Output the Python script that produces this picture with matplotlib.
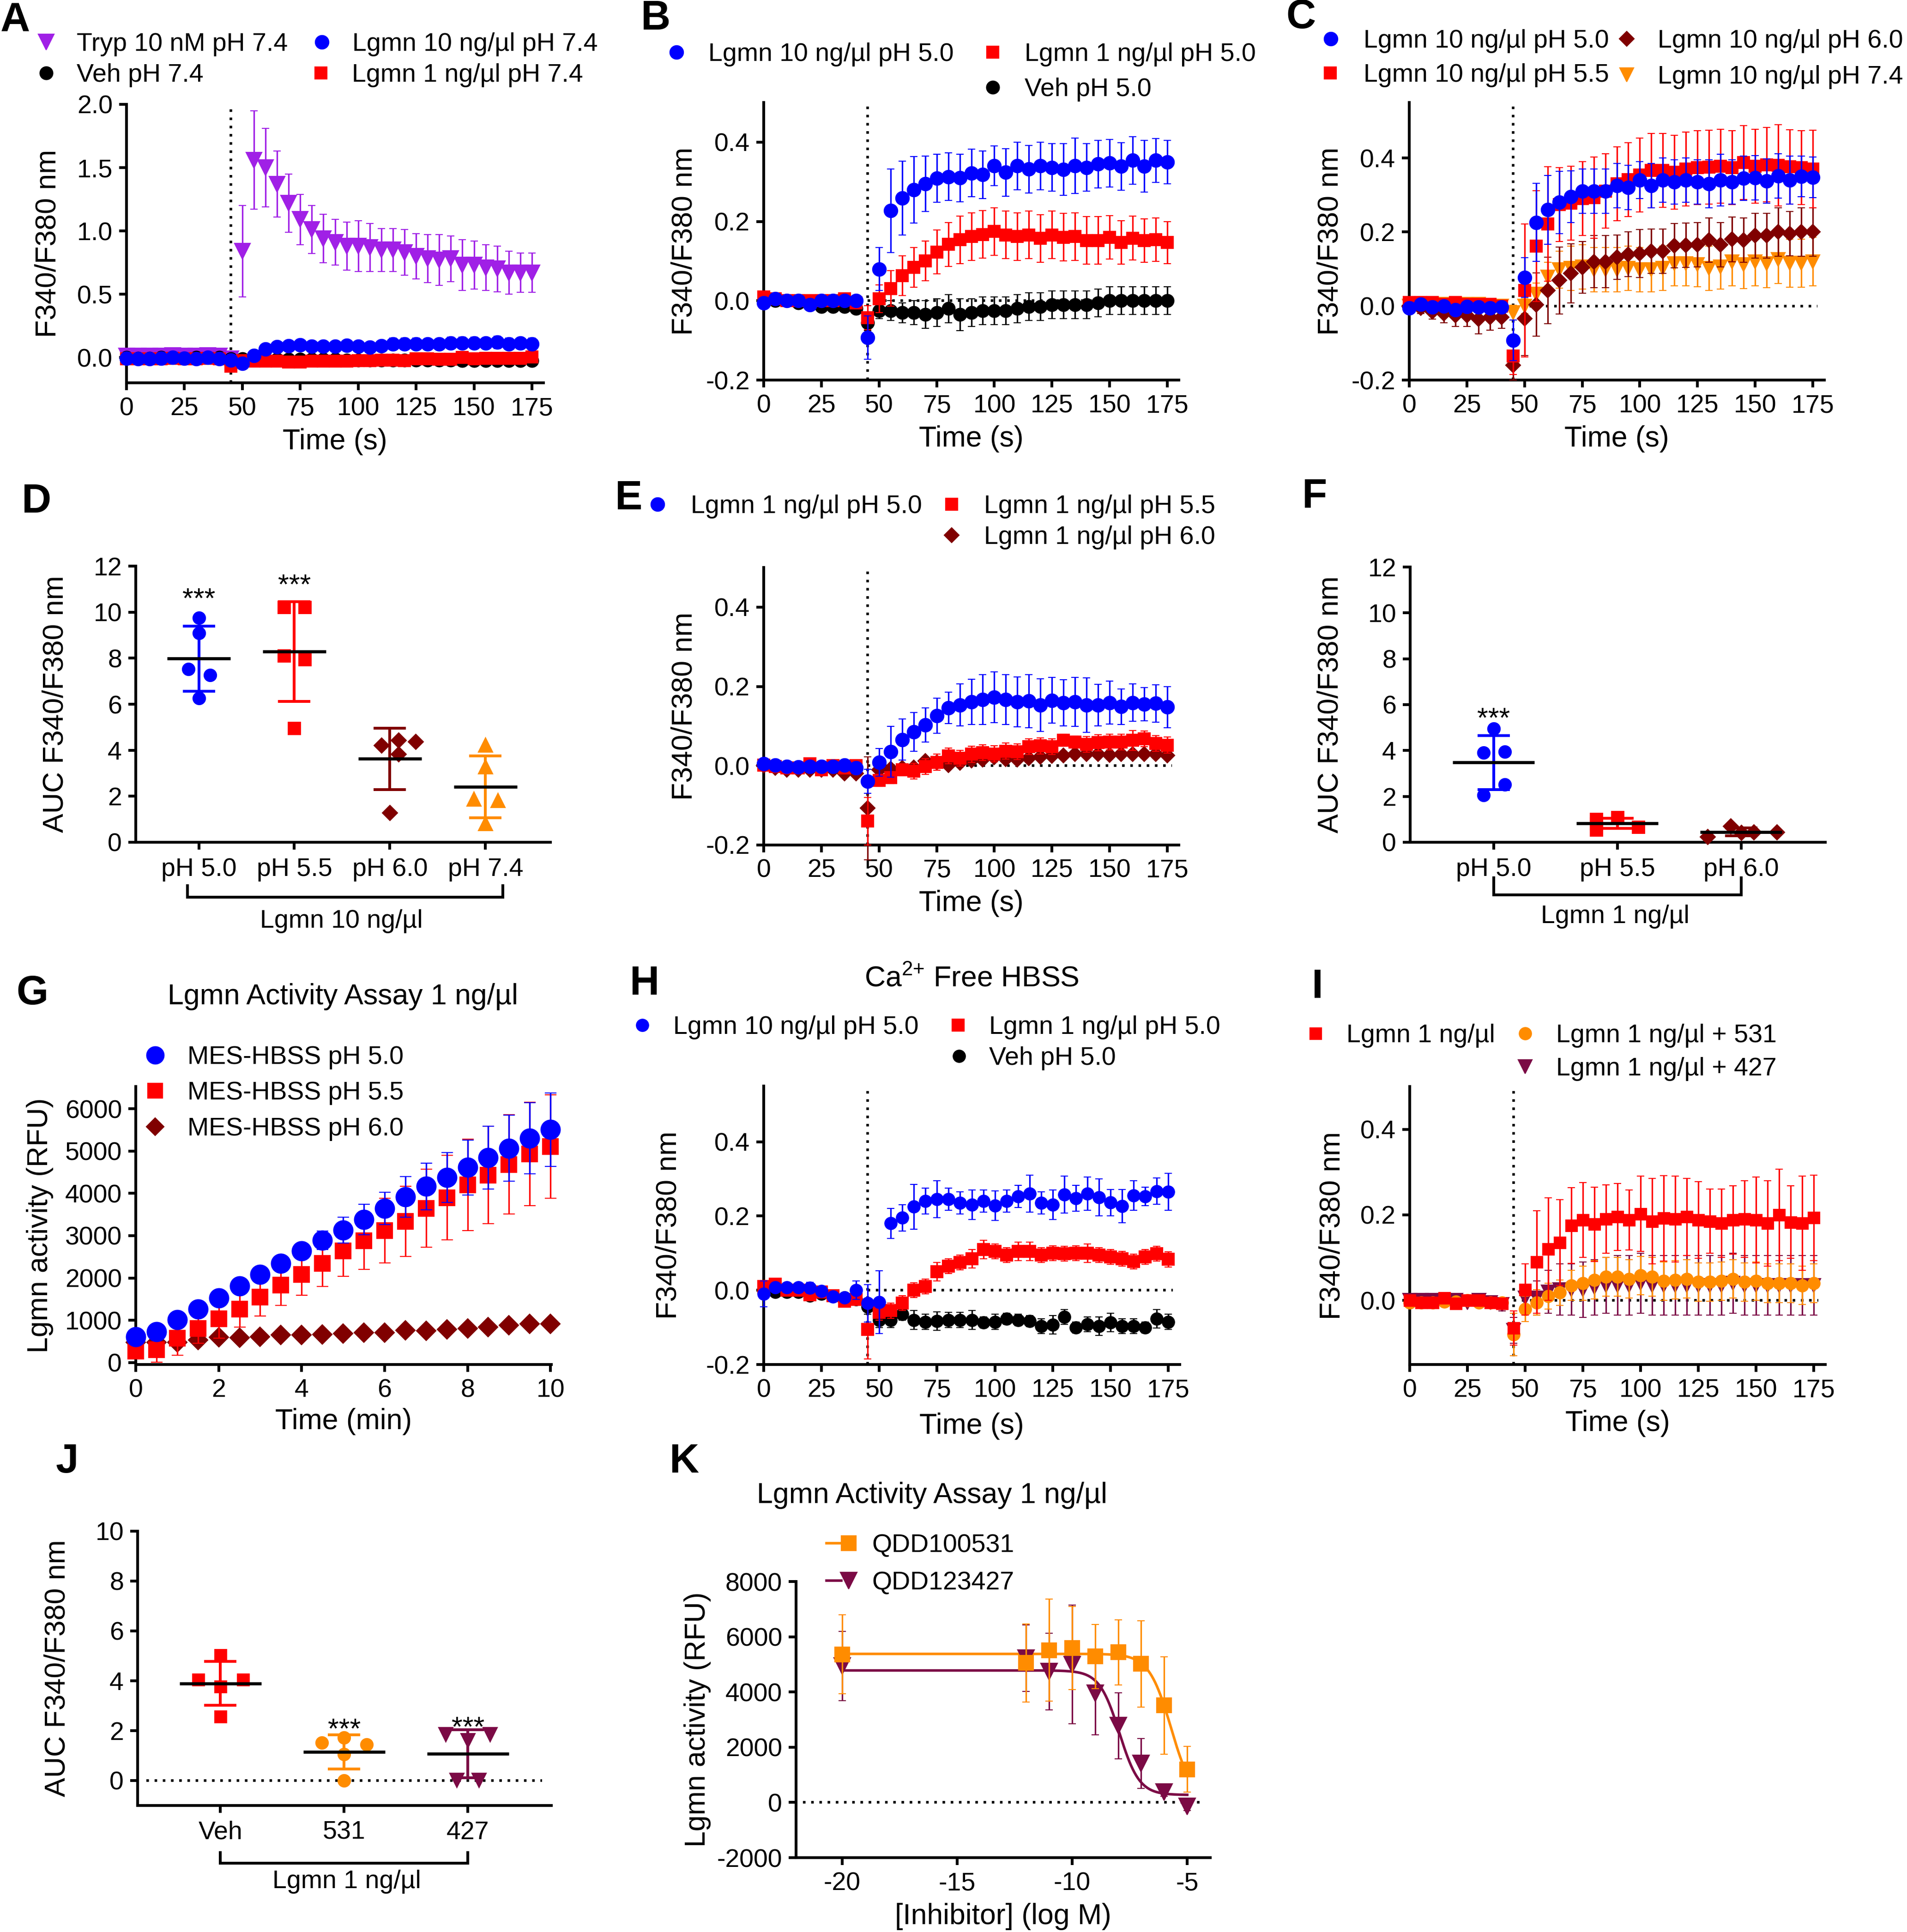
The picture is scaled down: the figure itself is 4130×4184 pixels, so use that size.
import numpy as np
import matplotlib
matplotlib.use("Agg")
import matplotlib.pyplot as plt
import matplotlib.transforms as mtransforms
from matplotlib.ticker import FormatStrFormatter
from matplotlib.legend_handler import HandlerTuple

# ======================= DATA =======================
time_s = list(range(0, 180, 5))

# ---- Panel A (pH 7.4) ----
a_tryp = [0.01, 0.01, 0.01, 0.01, 0.015, 0.01, 0.01, 0.015, 0.01, -0.01,
          0.84, 1.56, 1.50, 1.37, 1.22, 1.09, 1.01, 0.94, 0.91, 0.88, 0.88, 0.87, 0.85,
          0.85, 0.83, 0.80, 0.78, 0.77, 0.78, 0.73, 0.73, 0.71, 0.70, 0.67, 0.67, 0.67]
a_tryp_err = [0.01, 0.01, 0.01, 0.01, 0.01, 0.01, 0.01, 0.01, 0.01, 0.01,
              0.36, 0.39, 0.31, 0.26, 0.23, 0.20, 0.19, 0.19, 0.18, 0.19, 0.20, 0.19, 0.17,
              0.17, 0.18, 0.18, 0.19, 0.20, 0.18, 0.20, 0.19, 0.18, 0.18, 0.17, 0.155, 0.155]
a_veh = [0.0, -0.005, -0.005, 0.0, 0.0, -0.005, 0.0, 0.0, 0.0, -0.01,
         -0.01, -0.01, -0.015, -0.015, -0.015, -0.015, -0.015, -0.015, -0.015, -0.02, -0.02,
         -0.02, -0.02, -0.02, -0.02, -0.02, -0.02, -0.02, -0.02, -0.025, -0.025, -0.025,
         -0.025, -0.025, -0.025, -0.025]
a_veh_err = [0.01, 0.01, 0.01, 0.01, 0.01, 0.01, 0.01, 0.01, 0.01, 0.015,
             0.015, 0.015, 0.015, 0.015, 0.015, 0.015, 0.015, 0.015, 0.015, 0.015, 0.015,
             0.015, 0.015, 0.015, 0.015, 0.015, 0.015, 0.015, 0.015, 0.015, 0.015, 0.015,
             0.015, 0.015, 0.015, 0.015]
a_l10 = [-0.005, -0.01, -0.01, -0.005, 0.0, -0.005, -0.01, 0.0, -0.01, -0.02,
         -0.047, 0.016, 0.065, 0.086, 0.093, 0.098, 0.088, 0.088, 0.088, 0.097, 0.088,
         0.082, 0.093, 0.108, 0.108, 0.108, 0.105, 0.105, 0.115, 0.115, 0.115, 0.113,
         0.12, 0.108, 0.113, 0.108]
a_l10_err = [0.01, 0.01, 0.01, 0.01, 0.01, 0.01, 0.01, 0.01, 0.01, 0.02,
             0.02, 0.03, 0.035, 0.04, 0.04, 0.045, 0.04, 0.04, 0.04, 0.04, 0.04,
             0.04, 0.04, 0.045, 0.045, 0.045, 0.045, 0.045, 0.045, 0.045, 0.045, 0.045,
             0.05, 0.045, 0.045, 0.045]
a_l1 = [-0.01, -0.01, -0.01, -0.01, -0.005, -0.01, -0.01, -0.005, -0.01, -0.07,
        -0.025, -0.03, -0.03, -0.03, -0.035, -0.035, -0.03, -0.03, -0.03, -0.03, -0.025,
        -0.025, -0.02, -0.02, -0.025, -0.01, -0.01, -0.015, -0.015, 0.0, -0.01, -0.005,
        -0.005, -0.005, -0.005, 0.005]
a_l1_err = [0.01, 0.01, 0.01, 0.01, 0.01, 0.01, 0.01, 0.01, 0.01, 0.02,
            0.02, 0.02, 0.02, 0.02, 0.02, 0.02, 0.02, 0.02, 0.02, 0.02, 0.02,
            0.02, 0.02, 0.02, 0.02, 0.02, 0.02, 0.02, 0.02, 0.02, 0.02, 0.02,
            0.02, 0.02, 0.02, 0.02]

# ---- Panel B (pH 5.0) ----
b_l10 = [-0.005, 0.005, 0.0, 0.0, -0.01, 0.0, 0.0, 0.0, 0.0, -0.093,
         0.08, 0.227, 0.259, 0.28, 0.295, 0.309, 0.313, 0.31, 0.322, 0.318, 0.34, 0.324,
         0.34, 0.332, 0.34, 0.336, 0.331, 0.34, 0.336, 0.345, 0.347, 0.339, 0.354, 0.339,
         0.354, 0.35]
b_l10_err = [0.005, 0.005, 0.005, 0.005, 0.005, 0.005, 0.005, 0.005, 0.005, 0.055,
             0.054, 0.105, 0.093, 0.084, 0.07, 0.06, 0.06, 0.06, 0.06, 0.06, 0.05, 0.06,
             0.06, 0.06, 0.06, 0.06, 0.065, 0.07, 0.06, 0.06, 0.06, 0.06, 0.06, 0.065,
             0.055, 0.055]
b_l1 = [0.01, 0.005, 0.0, 0.0, 0.0, 0.0, 0.0, 0.005, -0.005, -0.043,
        0.005, 0.031, 0.063, 0.084, 0.1, 0.123, 0.142, 0.154, 0.162, 0.167, 0.175, 0.166,
        0.162, 0.166, 0.157, 0.166, 0.16, 0.162, 0.152, 0.152, 0.16, 0.147, 0.158, 0.152,
        0.154, 0.147]
b_l1_err = [0.005, 0.005, 0.005, 0.005, 0.005, 0.005, 0.005, 0.005, 0.005, 0.03,
            0.035, 0.045, 0.05, 0.05, 0.05, 0.055, 0.055, 0.06, 0.06, 0.06, 0.06, 0.06,
            0.06, 0.06, 0.06, 0.06, 0.06, 0.06, 0.06, 0.06, 0.055, 0.055, 0.055, 0.055,
            0.055, 0.053]
b_veh = [0.0, 0.0, 0.0, -0.005, -0.01, -0.015, -0.015, -0.015, -0.02, -0.055,
         -0.025, -0.025, -0.03, -0.03, -0.035, -0.03, -0.02, -0.035, -0.03, -0.025, -0.025,
         -0.025, -0.02, -0.015, -0.015, -0.01, -0.01, -0.01, -0.01, -0.005, 0.0, 0.0, 0.0,
         0.0, 0.0, 0.0]
b_veh_err = [0.01, 0.01, 0.01, 0.01, 0.01, 0.01, 0.01, 0.01, 0.01, 0.02,
             0.02, 0.025, 0.025, 0.03, 0.035, 0.035, 0.035, 0.04, 0.035, 0.035, 0.035, 0.035,
             0.035, 0.035, 0.035, 0.035, 0.035, 0.035, 0.035, 0.035, 0.035, 0.035, 0.035,
             0.035, 0.035, 0.035]

# ---- Panel C (Lgmn 10 ng/ul, pH series) ----
c_50 = [-0.005, 0.005, -0.003, 0.0, -0.01, -0.002, -0.003, -0.005, -0.003, -0.093,
        0.077, 0.226, 0.26, 0.28, 0.295, 0.31, 0.31, 0.31, 0.325, 0.32, 0.34, 0.325, 0.34,
        0.335, 0.34, 0.335, 0.33, 0.34, 0.335, 0.345, 0.347, 0.338, 0.352, 0.34, 0.35, 0.348]
c_50_err = b_l10_err
c_55 = [0.01, 0.01, 0.01, 0.005, 0.01, 0.005, 0.005, 0.005, 0.0, -0.135,
        0.042, 0.162, 0.222, 0.274, 0.278, 0.29, 0.293, 0.311, 0.33, 0.342, 0.354, 0.366,
        0.367, 0.362, 0.37, 0.374, 0.375, 0.378, 0.374, 0.388, 0.378, 0.382, 0.38, 0.376,
        0.374, 0.37]
c_55_err = [0.01, 0.01, 0.01, 0.01, 0.01, 0.01, 0.01, 0.01, 0.01, 0.05,
            0.18, 0.15, 0.155, 0.1, 0.1, 0.1, 0.11, 0.1, 0.1, 0.1, 0.1, 0.1,
            0.1, 0.1, 0.1, 0.1, 0.1, 0.1, 0.1, 0.1, 0.1, 0.1, 0.11, 0.1, 0.1, 0.105]
c_60 = [0.0, -0.005, -0.015, -0.02, -0.025, -0.025, -0.035, -0.03, -0.03, -0.16,
        -0.034, 0.004, 0.042, 0.069, 0.088, 0.104, 0.12, 0.12, 0.132, 0.14, 0.142, 0.148,
        0.148, 0.163, 0.164, 0.166, 0.178, 0.166, 0.18, 0.178, 0.19, 0.19, 0.2, 0.196,
        0.2, 0.2]
c_60_err = [0.01, 0.015, 0.02, 0.025, 0.03, 0.03, 0.04, 0.035, 0.03, 0.04,
            0.1, 0.085, 0.09, 0.09, 0.08, 0.07, 0.07, 0.07, 0.06, 0.06, 0.065, 0.06,
            0.06, 0.06, 0.06, 0.06, 0.06, 0.06, 0.06, 0.06, 0.06, 0.06, 0.065, 0.06,
            0.065, 0.065]
c_74 = [0.0, 0.005, 0.005, 0.005, 0.005, 0.005, 0.005, 0.0, 0.0, -0.018,
        0.0, 0.032, 0.078, 0.098, 0.102, 0.106, 0.098, 0.098, 0.098, 0.102, 0.098, 0.098,
        0.102, 0.114, 0.114, 0.112, 0.102, 0.106, 0.12, 0.112, 0.12, 0.114, 0.126, 0.116,
        0.116, 0.12]
c_74_err = [0.005, 0.005, 0.005, 0.005, 0.005, 0.005, 0.005, 0.005, 0.005, 0.02,
            0.02, 0.03, 0.04, 0.05, 0.06, 0.06, 0.06, 0.06, 0.06, 0.06, 0.06, 0.06,
            0.06, 0.06, 0.06, 0.06, 0.06, 0.06, 0.065, 0.065, 0.065, 0.065, 0.065, 0.065,
            0.065, 0.065]

# ---- Panel D (AUC, Lgmn 10 ng/ul) ----
d_groups = ["pH 5.0", "pH 5.5", "pH 6.0", "pH 7.4"]
d_ph50 = [9.75, 9.10, 7.53, 7.26, 6.26]
d_ph55 = [10.22, 10.22, 8.11, 7.94, 4.95]
d_ph60 = [4.21, 4.44, 4.37, 3.83, 1.28]
d_ph74 = [4.24, 3.30, 1.88, 1.82, 0.83]
d_sig = ["***", "***", "", ""]

# ---- Panel E (Lgmn 1 ng/ul, pH series) ----
e_50 = [0.005, 0.002, -0.002, -0.003, -0.002, -0.002, -0.002, 0.002, -0.005, -0.039,
        0.008, 0.035, 0.066, 0.085, 0.103, 0.126, 0.146, 0.153, 0.161, 0.167, 0.173, 0.167,
        0.161, 0.163, 0.153, 0.165, 0.159, 0.161, 0.153, 0.153, 0.159, 0.149, 0.159, 0.155,
        0.157, 0.148]
e_50_err = [0.005, 0.005, 0.005, 0.005, 0.005, 0.005, 0.005, 0.005, 0.005, 0.03,
            0.035, 0.064, 0.052, 0.049, 0.043, 0.044, 0.04, 0.053, 0.057, 0.063, 0.064, 0.063,
            0.063, 0.067, 0.066, 0.058, 0.058, 0.062, 0.069, 0.052, 0.054, 0.045, 0.047, 0.042,
            0.047, 0.052]
e_55 = [0.002, -0.002, -0.005, -0.005, 0.005, -0.01, 0.0, -0.005, 0.0, -0.14,
        -0.037, -0.03, -0.01, -0.014, -0.002, 0.009, 0.025, 0.019, 0.029, 0.033, 0.03, 0.037,
        0.035, 0.048, 0.05, 0.048, 0.064, 0.06, 0.054, 0.058, 0.06, 0.06, 0.064, 0.068,
        0.056, 0.052]
e_55_err = [0.008, 0.008, 0.008, 0.008, 0.008, 0.008, 0.008, 0.008, 0.008, 0.06,
            0.015, 0.015, 0.015, 0.02, 0.02, 0.02, 0.02, 0.02, 0.02, 0.02, 0.02, 0.02,
            0.02, 0.02, 0.02, 0.02, 0.015, 0.015, 0.02, 0.02, 0.02, 0.02, 0.025, 0.02,
            0.02, 0.02]
e_60 = [0.0, -0.005, -0.01, -0.01, -0.01, -0.01, -0.01, -0.02, -0.02, -0.107,
        -0.01, -0.008, -0.005, -0.004, 0.012, 0.009, 0.002, 0.007, 0.013, 0.015, 0.021, 0.017,
        0.015, 0.019, 0.023, 0.025, 0.026, 0.029, 0.03, 0.029, 0.027, 0.029, 0.03, 0.029,
        0.029, 0.026]
e_60_err = [0.008, 0.008, 0.008, 0.008, 0.008, 0.008, 0.008, 0.008, 0.008, 0.13,
            0.01, 0.01, 0.01, 0.01, 0.01, 0.01, 0.01, 0.01, 0.01, 0.01, 0.01, 0.01,
            0.01, 0.01, 0.01, 0.01, 0.01, 0.01, 0.01, 0.01, 0.01, 0.01, 0.01, 0.01,
            0.01, 0.01]

# ---- Panel F (AUC, Lgmn 1 ng/ul) ----
f_groups = ["pH 5.0", "pH 5.5", "pH 6.0"]
f_ph50 = [4.96, 3.91, 3.95, 2.52, 2.06]
f_ph55 = [1.00, 0.55, 1.08, 0.67, 0.80]
f_ph60 = [0.24, 0.70, 0.45, 0.45, 0.42]
f_sig = ["***", "", ""]

# ---- Panel G (activity assay, pH) ----
g_min = [0, 0.5, 1, 1.5, 2, 2.5, 3, 3.5, 4, 4.5, 5, 5.5, 6, 6.5, 7, 7.5, 8, 8.5, 9, 9.5, 10]
g_50 = [612, 726, 1009, 1261, 1529, 1812, 2087, 2347, 2637, 2890, 3134, 3387, 3646, 3914,
        4166, 4380, 4610, 4839, 5068, 5298, 5505]
g_50_err = [60, 80, 90, 100, 100, 110, 120, 120, 130, 220, 306, 360, 383, 482, 551, 589,
            650, 742, 781, 841, 864]
g_55 = [268, 306, 573, 803, 1032, 1261, 1552, 1835, 2087, 2347, 2637, 2882, 3119, 3341,
        3647, 3899, 4205, 4434, 4686, 4931, 5107]
g_55_err = [150, 300, 400, 350, 450, 420, 450, 480, 500, 550, 600, 680, 760, 830, 920, 1000,
            1080, 1150, 1170, 1220, 1220]
g_60 = [482, 482, 482, 535, 596, 589, 612, 650, 650, 665, 688, 703, 703, 765, 749, 780,
        803, 841, 879, 917, 917]
g_60_err = [30, 30, 30, 30, 30, 30, 30, 30, 30, 30, 30, 30, 30, 30, 30, 30, 30, 30, 30, 30, 30]

# ---- Panel H (Ca2+ free HBSS) ----
h_l10 = [-0.01, 0.008, 0.008, 0.008, 0.007, -0.002, -0.017, -0.02, 0.0, -0.035,
         -0.032, 0.18, 0.195, 0.225, 0.24, 0.245, 0.245, 0.235, 0.23, 0.24, 0.228, 0.24,
         0.253, 0.26, 0.235, 0.23, 0.258, 0.248, 0.26, 0.25, 0.236, 0.227, 0.255, 0.253,
         0.267, 0.265]
h_l10_err = [0.035, 0.01, 0.01, 0.01, 0.015, 0.01, 0.01, 0.01, 0.025, 0.05,
             0.085, 0.04, 0.035, 0.06, 0.035, 0.05, 0.03, 0.03, 0.04, 0.03, 0.04, 0.03,
             0.03, 0.05, 0.03, 0.04, 0.05, 0.035, 0.045, 0.05, 0.035, 0.045, 0.04, 0.025,
             0.035, 0.05]
h_l1 = [0.01, 0.017, 0.0, 0.0, -0.012, -0.005, -0.015, -0.03, -0.025, -0.105,
        -0.06, -0.055, -0.035, 0.0, 0.01, 0.05, 0.065, 0.075, 0.085, 0.11, 0.105, 0.095,
        0.105, 0.105, 0.095, 0.1, 0.098, 0.1, 0.1, 0.095, 0.09, 0.085, 0.077, 0.09,
        0.098, 0.083]
h_l1_err = [0.015, 0.01, 0.01, 0.01, 0.01, 0.01, 0.01, 0.015, 0.015, 0.08,
            0.02, 0.02, 0.02, 0.02, 0.02, 0.025, 0.02, 0.02, 0.025, 0.025, 0.02, 0.02,
            0.025, 0.025, 0.02, 0.02, 0.02, 0.02, 0.025, 0.02, 0.02, 0.02, 0.02, 0.02,
            0.02, 0.02]
h_veh = [-0.005, -0.005, -0.005, -0.005, -0.015, -0.01, -0.015, -0.02, -0.025, -0.045,
         -0.08, -0.08, -0.065, -0.08, -0.085, -0.083, -0.08, -0.08, -0.08, -0.087, -0.085,
         -0.077, -0.08, -0.083, -0.097, -0.093, -0.072, -0.1, -0.092, -0.097, -0.087, -0.097,
         -0.097, -0.1, -0.077, -0.085]
h_veh_err = [0.01, 0.01, 0.01, 0.01, 0.01, 0.01, 0.01, 0.01, 0.01, 0.02,
             0.02, 0.02, 0.015, 0.025, 0.02, 0.025, 0.02, 0.02, 0.025, 0.015, 0.02, 0.015,
             0.015, 0.015, 0.02, 0.025, 0.02, 0.015, 0.02, 0.025, 0.025, 0.02, 0.02, 0.015,
             0.025, 0.02]

# ---- Panel I (inhibitors) ----
i_l1 = [0.0, -0.005, -0.005, 0.005, -0.008, 0.0, 0.0, -0.005, -0.008, -0.065,
        0.025, 0.09, 0.12, 0.135, 0.175, 0.188, 0.178, 0.19, 0.195, 0.188, 0.202, 0.185,
        0.192, 0.19, 0.195, 0.188, 0.185, 0.18, 0.188, 0.19, 0.188, 0.18, 0.2, 0.183,
        0.18, 0.193]
i_l1_err = [0.005, 0.005, 0.005, 0.005, 0.005, 0.005, 0.005, 0.005, 0.005, 0.04,
            0.06, 0.12, 0.12, 0.1, 0.088, 0.087, 0.087, 0.08, 0.078, 0.07, 0.088, 0.1,
            0.1, 0.1, 0.09, 0.09, 0.075, 0.08, 0.08, 0.09, 0.1, 0.1, 0.107, 0.085, 0.11, 0.1]
i_531 = [-0.005, -0.005, -0.005, -0.003, -0.003, 0.0, -0.005, -0.005, -0.005, -0.08,
         -0.02, -0.005, 0.01, 0.018, 0.035, 0.04, 0.048, 0.055, 0.055, 0.05, 0.058, 0.055,
         0.045, 0.048, 0.05, 0.043, 0.043, 0.045, 0.05, 0.043, 0.045, 0.04, 0.04, 0.04,
         0.035, 0.04]
i_531_err = [0.005, 0.005, 0.005, 0.005, 0.005, 0.005, 0.005, 0.005, 0.005, 0.05,
             0.03, 0.03, 0.03, 0.03, 0.035, 0.04, 0.045, 0.045, 0.045, 0.045, 0.045, 0.045,
             0.045, 0.045, 0.045, 0.045, 0.045, 0.045, 0.045, 0.045, 0.045, 0.045, 0.045,
             0.045, 0.045, 0.045]
i_427 = [0.0, 0.0, 0.0, 0.0, 0.0, -0.005, 0.0, -0.005, -0.01, -0.07,
         0.005, 0.005, 0.02, 0.025, 0.025, 0.025, 0.03, 0.035, 0.035, 0.035, 0.04, 0.035,
         0.035, 0.035, 0.035, 0.035, 0.035, 0.035, 0.04, 0.035, 0.035, 0.035, 0.035, 0.035,
         0.035, 0.035]
i_427_err = [0.005, 0.005, 0.005, 0.005, 0.005, 0.005, 0.005, 0.01, 0.015, 0.03,
             0.03, 0.04, 0.05, 0.06, 0.06, 0.065, 0.065, 0.065, 0.07, 0.07, 0.07, 0.07,
             0.07, 0.07, 0.07, 0.07, 0.07, 0.07, 0.07, 0.07, 0.07, 0.07, 0.07, 0.07,
             0.07, 0.07]

# ---- Panel J (AUC, inhibitors) ----
j_groups = ["Veh", "531", "427"]
j_veh = [5.04, 4.05, 4.05, 3.77, 2.58]
j_531 = [1.72, 1.51, 1.44, 1.05, 0.0]
j_427 = [1.85, 1.85, 1.62, 0.02, 0.02]
j_sig = ["", "***", "***"]

# ---- Panel K (dose response) ----
k_logM = [-20, -12, -11, -10, -9, -8, -7, -6, -5]
k_531 = [5364, 5052, 5514, 5595, 5283, 5434, 5017, 3514, 1202]
k_531_err = [1430, 1410, 1850, 1500, 1160, 1180, 1560, 1760, 830]
k_427 = [4936, 5225, 4740, 4994, 3954, 2775, 1410, 370, -150]
k_427_err = [1250, 1200, 1390, 2150, 1500, 1200, 900, 150, 150]
# fitted 4-parameter logistic: top, bottom, logIC50, hill
k_531_fit = [5380, 0, -5.7, 0.9]
k_427_fit = [4780, 270, -7.95, 1.0]

# ======================= STYLE =======================
W, H, DPI = 4130, 4184, 200
plt.rcParams['font.family'] = ['Liberation Sans', 'DejaVu Sans']
plt.rcParams['axes.unicode_minus'] = False
plt.rcParams['mathtext.default'] = 'regular'

BLUE = '#0000FF'
RED = '#FF0000'
BLACK = '#000000'
MAROON = '#800000'
ORANGE = '#FF8C00'
PURPLE = '#A020E6'
PLUM = '#7B0A45'

FS_TICK = 20
FS_LAB = 22.5
FS_LEG = 20
FS_PX = FS_LEG * DPI / 72.0
DOT = (0, (1, 2.2))

fig = plt.figure(figsize=(W / DPI, H / DPI), dpi=DPI)


def add_ax(x0, y0, x1, y1):
    ax = fig.add_axes([x0 / W, 1 - y1 / H, (x1 - x0) / W, (y1 - y0) / H])
    ax.spines[['top', 'right']].set_visible(False)
    for s in ['left', 'bottom']:
        ax.spines[s].set_linewidth(2.2)
    ax.tick_params(width=2.2, length=5.8, labelsize=FS_TICK, pad=5)
    ax.patch.set_alpha(0)
    ax._px = (x0, y0, x1, y1)
    return ax


def set_labels(ax, xl, yl, yoff, xoff=127):
    x0, y0, x1, y1 = ax._px
    if xl:
        ax.set_xlabel(xl, fontsize=FS_LAB, va='center')
        ax.xaxis.set_label_coords(0.5, -xoff / (y1 - y0))
    ax.set_ylabel(yl, fontsize=FS_LAB, va='center')
    ax.yaxis.set_label_coords(-yoff / (x1 - x0), 0.5)


def letter(ch, x, y):
    fig.text(x / W, 1 - y / H, ch, fontsize=32, fontweight='bold', ha='center', va='center')


def entry(handle, label, mx, my, tx, hl=1.0, markerscale=1.0):
    x0 = mx - hl * FS_PX / 2
    pad = (tx - mx - hl * FS_PX / 2) / FS_PX
    fig.legend([handle], [label], loc='center left',
               bbox_to_anchor=(x0 / W, 1 - my / H), bbox_transform=fig.transFigure,
               frameon=False, handlelength=hl, handletextpad=pad, borderpad=0,
               borderaxespad=0, fontsize=FS_LEG, numpoints=1, markerscale=markerscale,
               handler_map={tuple: HandlerTuple(ndivide=None)})


def series(ax, x, y, err, color, marker, ms, z, cap=3):
    c = ax.errorbar(x, y, yerr=err, fmt=marker, color=color, ms=ms, mec=color, mfc=color,
                    mew=0.8, ecolor=color, elinewidth=1.2, capsize=cap, capthick=1.2,
                    zorder=z, clip_on=False)
    return c[0]


def ts_axes(px, ylim, yticks, yoff, zero_line=True):
    ax = add_ax(*px)
    ax.set_xlim(0, 180)
    ax.set_ylim(*ylim)
    ax.set_xticks(list(range(0, 176, 25)))
    ax.set_yticks(yticks)
    ax.yaxis.set_major_formatter(FormatStrFormatter('%.1f'))
    ax.axvline(45, color='k', lw=2, ls=DOT, zorder=1)
    if zero_line:
        ax.hlines(0, 45, 177, color='k', lw=2, ls=DOT, zorder=1)
    set_labels(ax, 'Time (s)', 'F340/F380 nm', yoff)
    return ax


def dotplot(ax, i, vals, jit, color, marker, ms):
    xs = i + np.asarray(jit)
    ax.plot(xs, vals, ls='none', marker=marker, color=color, ms=ms, mec=color, zorder=3,
            clip_on=False)
    m = np.mean(vals)
    sd = np.std(vals, ddof=1)
    ax.errorbar([i], [m], yerr=[sd], fmt='none', ecolor=color, elinewidth=2.2,
                capsize=12.5, capthick=2.2, zorder=4)
    ax.hlines(m, i - 0.33, i + 0.33, color='black', lw=2.4, zorder=5)


def stars(ax, i, yc, s):
    if s:
        ax.annotate(s, xy=(i, yc), xytext=(0, -12.6), textcoords='offset points',
                    ha='center', va='baseline', fontsize=22)


def bracket(ax, xa, xb, y_px, ytop_px, label, lx, ly_px):
    tr = mtransforms.blended_transform_factory(ax.transData, fig.transFigure)
    ya = 1 - y_px / H
    yt = 1 - ytop_px / H
    ax.plot([xa, xa, xb, xb], [yt, ya, ya, yt], transform=tr, color='k', lw=2.2,
            clip_on=False, solid_joinstyle='miter')
    ax.text(lx, 1 - ly_px / H, label, transform=tr, ha='center', va='center', fontsize=FS_LEG)


def cat_axes(px, xlim, ylim, yticks, groups, yoff):
    ax = add_ax(*px)
    ax.set_xlim(*xlim)
    ax.set_ylim(*ylim)
    ax.set_yticks(yticks)
    ax.set_xticks(range(len(groups)))
    ax.set_xticklabels(groups)
    ax.tick_params(axis='x', pad=6)
    set_labels(ax, None, 'AUC F340/F380 nm', yoff)
    return ax


# ======================= PANEL A =======================
ax = ts_axes((274, 226, 1177, 829), (-0.2, 2.0), [0, 0.5, 1.0, 1.5, 2.0], 170, zero_line=False)
hA1 = series(ax, time_s, a_tryp, a_tryp_err, PURPLE, 'v', 12, 3)
hA2 = series(ax, time_s, a_veh, a_veh_err, BLACK, 'o', 10, 4)
hA3 = series(ax, time_s, a_l1, a_l1_err, RED, 's', 9.5, 5)
hA4 = series(ax, time_s, a_l10, a_l10_err, BLUE, 'o', 10.5, 6)
letter('A', 33, 45)
entry(hA1, 'Tryp 10 nM pH 7.4', 100, 96, 166)
entry(hA2, 'Veh pH 7.4', 100, 163, 166)
entry(hA4, 'Lgmn 10 ng/µl pH 7.4', 697, 96, 763)
entry(hA3, 'Lgmn 1 ng/µl pH 7.4', 695, 163, 762)

# ======================= PANEL B =======================
ax = ts_axes((1654, 222, 2553, 823), (-0.2, 0.5), [-0.2, 0.0, 0.2, 0.4], 172)
hB3 = series(ax, time_s, b_veh, b_veh_err, BLACK, 'o', 10, 3)
hB2 = series(ax, time_s, b_l1, b_l1_err, RED, 's', 9.5, 4)
hB1 = series(ax, time_s, b_l10, b_l10_err, BLUE, 'o', 10.5, 5)
letter('B', 1420, 41)
entry(hB1, 'Lgmn 10 ng/µl pH 5.0', 1465, 118, 1534)
entry(hB2, 'Lgmn 1 ng/µl pH 5.0', 2150, 118, 2219)
entry(hB3, 'Veh pH 5.0', 2150, 194, 2219)

# ======================= PANEL C =======================
ax = ts_axes((3052, 222, 3951, 823), (-0.2, 0.55), [-0.2, 0.0, 0.2, 0.4], 171)
hC4 = series(ax, time_s, c_74, c_74_err, ORANGE, 'v', 11, 3)
hC3 = series(ax, time_s, c_60, c_60_err, MAROON, 'D', 8, 4)
hC2 = series(ax, time_s, c_55, c_55_err, RED, 's', 9.5, 5)
hC1 = series(ax, time_s, c_50, c_50_err, BLUE, 'o', 10.5, 6)
letter('C', 2817, 38)
entry(hC1, 'Lgmn 10 ng/µl pH 5.0', 2882, 89, 2953)
entry(hC2, 'Lgmn 10 ng/µl pH 5.5', 2881, 163, 2953)
entry(hC3, 'Lgmn 10 ng/µl pH 6.0', 3523, 89, 3590)
entry(hC4, 'Lgmn 10 ng/µl pH 7.4', 3523, 167, 3590)

# ======================= PANEL D =======================
ax = cat_axes((294, 1226, 1192, 1824), (-0.66, 3.68), (0, 12), [0, 2, 4, 6, 8, 10, 12],
              d_groups, 174)
dotplot(ax, 0, d_ph50, [0, 0, -0.11, 0.12, 0], BLUE, 'o', 9.5)
dotplot(ax, 1, d_ph55, [-0.11, 0.11, -0.11, 0.11, 0], RED, 's', 9.5)
dotplot(ax, 2, d_ph60, [-0.09, 0.09, 0.27, 0.09, 0], MAROON, 'D', 8)
dotplot(ax, 3, d_ph74, [0, 0, -0.12, 0.13, 0], ORANGE, '^', 11)
for i, (s, yc) in enumerate(zip(d_sig, [10.9, 11.5, 0, 0])):
    stars(ax, i, yc, s)
bracket(ax, -0.12, 3.18, 1943, 1918, 'Lgmn 10 ng/µl', 1.49, 1995)
letter('D', 79, 1087)

# ======================= PANEL E =======================
ax = ts_axes((1654, 1229, 2553, 1830), (-0.2, 0.5), [-0.2, 0.0, 0.2, 0.4], 172)
hE3 = series(ax, time_s, e_60, e_60_err, MAROON, 'D', 8, 3)
hE2 = series(ax, time_s, e_55, e_55_err, RED, 's', 9.5, 4)
hE1 = series(ax, time_s, e_50, e_50_err, BLUE, 'o', 10.5, 5)
letter('E', 1362, 1080)
entry(hE1, 'Lgmn 1 ng/µl pH 5.0', 1424, 1097, 1496)
entry(hE2, 'Lgmn 1 ng/µl pH 5.5', 2061, 1097, 2131)
entry(hE3, 'Lgmn 1 ng/µl pH 6.0', 2061, 1164, 2131)

# ======================= PANEL F =======================
ax = cat_axes((3054, 1228, 3953, 1824), (-0.675, 2.68), (0, 12), [0, 2, 4, 6, 8, 10, 12],
              f_groups, 173)
dotplot(ax, 0, f_ph50, [0, -0.08, 0.09, 0.09, -0.08], BLUE, 'o', 9.5)
dotplot(ax, 1, f_ph55, [-0.17, -0.17, 0, 0.17, -0.17], RED, 's', 9.5)
dotplot(ax, 2, f_ph60, [-0.27, -0.085, 0.10, 0.29, 0], MAROON, 'D', 8)
for i, (s, yc) in enumerate(zip(f_sig, [5.73, 0, 0])):
    stars(ax, i, yc, s)
bracket(ax, 0, 2, 1938, 1901, 'Lgmn 1 ng/µl', 0.98, 1985)
letter('F', 2847, 1077)

# ======================= PANEL G =======================
ax = add_ax(294, 2353, 1194, 2955)
ax.set_xlim(0, 10.02)
ax.set_ylim(-45, 6525)
ax.set_xticks([0, 2, 4, 6, 8, 10])
ax.set_yticks([0, 1000, 2000, 3000, 4000, 5000, 6000])
hG3 = series(ax, g_min, g_60, g_60_err, MAROON, 'D', 10.5, 3, cap=4.5)
hG2 = series(ax, g_min, g_55, g_55_err, RED, 's', 12.5, 4, cap=4.5)
hG1 = series(ax, g_min, g_50, g_50_err, BLUE, 'o', 15, 5, cap=4.5)
set_labels(ax, 'Time (min)', 'Lgmn activity (RFU)', 207, xoff=123)
fig.text(742 / W, 1 - 2159 / H, 'Lgmn Activity Assay 1 ng/µl', fontsize=FS_LAB,
         ha='center', va='center')
letter('G', 70, 2152)
entry(hG1, 'MES-HBSS pH 5.0', 336, 2290, 406, markerscale=0.9)
entry(hG2, 'MES-HBSS pH 5.5', 336, 2367, 406, markerscale=0.9)
entry(hG3, 'MES-HBSS pH 6.0', 336, 2445, 406, markerscale=0.9)

# ======================= PANEL H =======================
ax = ts_axes((1654, 2352, 2555, 2955), (-0.2, 0.55), [-0.2, 0.0, 0.2, 0.4], 206)
ax.xaxis.set_label_coords(0.5, -133 / (2955 - 2352))
hH3 = series(ax, time_s, h_veh, h_veh_err, BLACK, 'o', 9.5, 3)
hH2 = series(ax, time_s, h_l1, h_l1_err, RED, 's', 9.5, 4)
hH1 = series(ax, time_s, h_l10, h_l10_err, BLUE, 'o', 9.5, 5)
fig.text(2104 / W, 1 - 2120 / H, 'Ca$^{2{+}}$ Free HBSS', fontsize=FS_LAB,
         ha='center', va='center')
letter('H', 1396, 2131)
entry(hH1, 'Lgmn 10 ng/µl pH 5.0', 1391, 2225, 1458)
entry(hH2, 'Lgmn 1 ng/µl pH 5.0', 2075, 2225, 2142)
entry(hH3, 'Veh pH 5.0', 2077, 2292, 2142)

# ======================= PANEL I =======================
ax = ts_axes((3053, 2353, 3953, 2955), (-0.15, 0.5), [0.0, 0.2, 0.4], 168)
hI3 = series(ax, time_s, i_427, i_427_err, PLUM, 'v', 11, 3)
hI2 = series(ax, time_s, i_531, i_531_err, ORANGE, 'o', 9.5, 4)
hI1 = series(ax, time_s, i_l1, i_l1_err, RED, 's', 9, 5)
letter('I', 2853, 2138)
entry(hI1, 'Lgmn 1 ng/µl', 2849, 2243, 2916)
entry(hI2, 'Lgmn 1 ng/µl + 531', 3303, 2243, 3370)
entry(hI3, 'Lgmn 1 ng/µl + 427', 3303, 2315, 3370)

# ======================= PANEL J =======================
ax = cat_axes((298, 3316, 1194, 3910), (-0.67, 2.675), (-1, 10), [0, 2, 4, 6, 8, 10],
              j_groups, 174)
ax.hlines(0, -0.6, 2.6, color='k', lw=2, ls=DOT, zorder=1)
dotplot(ax, 0, j_veh, [0, -0.18, 0.18, 0, 0], RED, 's', 9)
dotplot(ax, 1, j_531, [0, -0.18, 0.18, 0, 0], ORANGE, 'o', 9.5)
dotplot(ax, 2, j_427, [-0.18, 0.18, 0, -0.09, 0.09], PLUM, 'v', 10.5)
for i, (s, yc) in enumerate(zip(j_sig, [0, 2.36, 2.43])):
    stars(ax, i, yc, s)
bracket(ax, 0, 2, 4035, 4012, 'Lgmn 1 ng/µl', 1.02, 4075)
letter('J', 145, 3166)

# ======================= PANEL K =======================
ax = add_ax(1724, 3425, 2621, 4023)
ax.set_xlim(-22, -4)
ax.set_ylim(-2000, 8000)
ax.set_xticks([-20, -15, -10, -5])
ax.set_yticks([-2000, 0, 2000, 4000, 6000, 8000])
ax.hlines(0, -21.7, -4.3, color='k', lw=2, ls=DOT, zorder=1)
xf = np.linspace(-20, -5, 400)


def logistic(x, p):
    top, bottom, logic50, hill = p
    return bottom + (top - bottom) / (1 + 10 ** ((x - logic50) * hill))


fK1, = ax.plot(xf, logistic(xf, k_531_fit), color=ORANGE, lw=2, zorder=2)
fK2, = ax.plot(xf, logistic(xf, k_427_fit), color=PLUM, lw=2, zorder=2)
hK2 = series(ax, k_logM, k_427, k_427_err, PLUM, 'v', 13, 3, cap=2.8)
hK1 = series(ax, k_logM, k_531, k_531_err, ORANGE, 's', 11.5, 4, cap=2.8)
set_labels(ax, '[Inhibitor] (log M)', 'Lgmn activity (RFU)', 214)
fig.text(2018 / W, 1 - 3238 / H, 'Lgmn Activity Assay 1 ng/µl', fontsize=FS_LAB,
         ha='center', va='center')
letter('K', 1482, 3166)
entry((fK1, hK1), 'QDD100531', 1822, 3347, 1888, hl=1.15)
entry((fK2, hK2), 'QDD123427', 1822, 3428, 1888, hl=1.15)

fig.savefig('out.png', dpi=DPI)
